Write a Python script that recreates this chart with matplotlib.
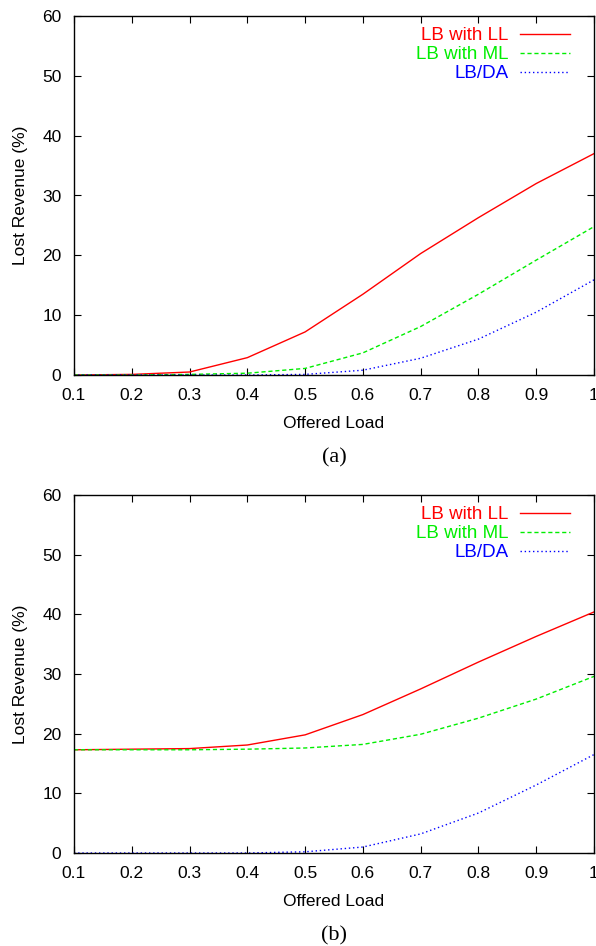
import matplotlib
matplotlib.use("Agg")
import matplotlib.pyplot as plt
from matplotlib.ticker import FormatStrFormatter

# offered load on the x axis
load = [0.1, 0.2, 0.3, 0.4, 0.5, 0.6, 0.7, 0.8, 0.9, 1.0]

# panel (a): lost revenue (%)
a_ll = [0.0, 0.1, 0.5, 2.9, 7.2, 13.5, 20.3, 26.3, 32.0, 37.0]
a_ml = [0.0, 0.0, 0.1, 0.3, 1.1, 3.7, 8.1, 13.5, 19.2, 24.8]
a_da = [0.0, 0.0, 0.0, 0.0, 0.1, 0.8, 2.8, 6.0, 10.5, 15.9]

# panel (b): lost revenue (%)
b_ll = [17.3, 17.4, 17.5, 18.1, 19.8, 23.2, 27.5, 32.0, 36.3, 40.4]
b_ml = [17.3, 17.3, 17.3, 17.4, 17.6, 18.2, 19.9, 22.6, 25.8, 29.6]
b_da = [0.0, 0.0, 0.0, 0.0, 0.2, 1.0, 3.2, 6.7, 11.4, 16.5]

labels = ["LB with LL", "LB with ML", "LB/DA"]
colors = ["#ff0000", "#00ee00", "#0000ff"]
styles = ["-", (0, (3, 2)), (0, (1, 2))]

plt.rcParams['font.family'] = ['Liberation Sans', 'DejaVu Sans']
plt.rcParams['font.size'] = 12.5

fig = plt.figure(figsize=(5.96, 9.46), dpi=100)
W, H = 596.0, 946.0


def panel(top, bottom, series, caption):
    ax = fig.add_axes([74 / W, 1 - bottom / H, 520 / W, (bottom - top) / H])
    for ys, lab, c, ls in zip(series, labels, colors, styles):
        ax.plot(load, ys, color=c, linestyle=ls, linewidth=1.0, label=lab)
    ax.set_xlim(0.1, 1.0)
    ax.set_ylim(0, 60)
    ax.set_xticks(load)
    ax.set_yticks(range(0, 61, 10))
    ax.xaxis.set_major_formatter(FormatStrFormatter('%g'))
    ax.tick_params(direction='in', top=True, right=True, length=5,
                   width=0.8, pad=9)
    for s in ax.spines.values():
        s.set_linewidth(1.0)
    ax.set_xlabel("Offered Load", labelpad=10)
    ax.set_ylabel("Lost Revenue (%)", labelpad=10)
    ax.legend(loc='upper right', frameon=False, markerfirst=False,
              handlelength=2.7, handletextpad=0.6, labelspacing=0.1,
              borderaxespad=0.3, fontsize=13.5, labelcolor='linecolor',
              bbox_to_anchor=(0.98, 1.006))
    fig.text(0.5 * (74 + 594) / W, 1 - (bottom + 83) / H, caption,
             family=['Liberation Serif', 'DejaVu Serif'], fontsize=16,
             ha='center', va='center')
    return ax


panel(16, 375, [a_ll, a_ml, a_da], "(a)")
panel(495, 853, [b_ll, b_ml, b_da], "(b)")

fig.savefig("out.png", dpi=100)
